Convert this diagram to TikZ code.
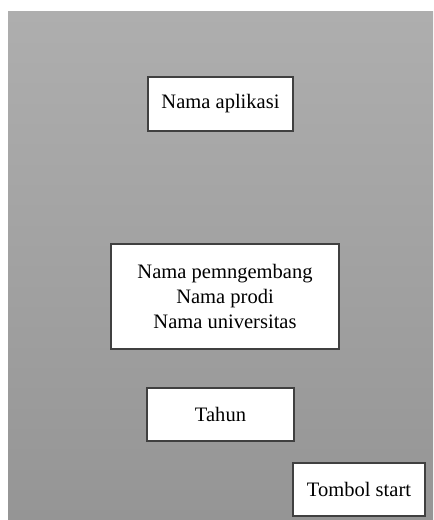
\documentclass[tikz,border=0pt]{standalone}
\usepackage{fontspec}
\setmainfont{Liberation Serif}
\definecolor{bgtop}{RGB}{174,174,174}
\definecolor{bgbottom}{RGB}{149,149,149}
\definecolor{edge}{RGB}{64,64,64}
\begin{document}
\begin{tikzpicture}[x=0.75pt,y=-0.75pt,
  panel/.style={draw=edge,line width=0.8pt,fill=white,align=center,
    inner sep=0pt,font=\fontsize{15.4}{18.6}\selectfont}]
  % page and gray screen area
  \useasboundingbox (0,0) rectangle (433,520);
  \fill[white] (0,0) rectangle (433,520);
  \shade[top color=bgtop,bottom color=bgbottom] (8,12) rectangle (433,520);

  \node[panel,minimum width={145*0.75pt},minimum height={54*0.75pt}] (app) at (220.5,104) {Nama aplikasi};
  \node[panel,minimum width={228*0.75pt},minimum height={105*0.75pt}] (info) at (225,296.5)
    {Nama pemngembang\\Nama prodi\\Nama universitas};
  \node[panel,minimum width={147*0.75pt},minimum height={53*0.75pt}] (year) at (220.5,414.5) {Tahun};
  \node[panel,minimum width={132*0.75pt},minimum height={53*0.75pt}] (start) at (359,489.5) {Tombol start};
\end{tikzpicture}
\end{document}
